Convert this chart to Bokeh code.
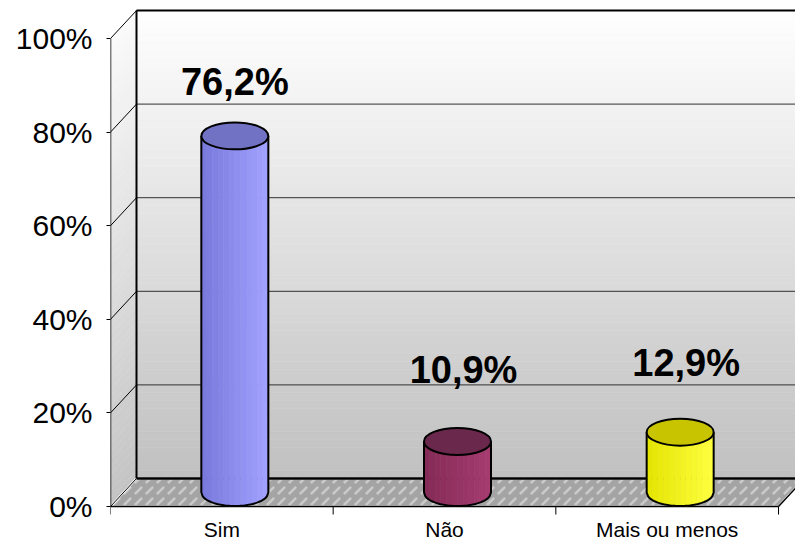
import numpy as np
from bokeh.plotting import figure
from bokeh.models import Range1d, FixedTicker, PrintfTickFormatter, ColumnDataSource
from bokeh.core.properties import value
from bokeh.embed import file_html
from bokeh.resources import INLINE

# ---- data ----
categories = ["Sim", "Não", "Mais ou menos"]
values = [76.2, 10.9, 12.9]
value_labels = ["76,2%", "10,9%", "12,9%"]
y_ticks = [0, 20, 40, 60, 80, 100]

# ---- styles ----
body_left = ["#7878dc", "#842a57", "#e4e400"]
body_right = ["#a2a2ff", "#a63c70", "#ffff40"]
top_colors = ["#7272c4", "#6a284c", "#c8c400"]
label_dx = [0, 6, 6]
label_dy = [-54, -71, -69]
FONT = "Liberation Sans"

W, H = 795, 542
LEFT = 110
BOTTOM_PX = 36
PXX = 668 / 3
PXY = 4.68
n = len(categories)
x_end = (W - LEFT) / PXX
y_start = -BOTTOM_PX / PXY
y_end = y_start + H / PXY
DX = 26 / PXX
DY = 28 / PXY
RX = 33.5 / PXX
RY = 13.5 / PXY


def hexmix(c1, c2, f):
    a = [int(c1[k:k + 2], 16) for k in (1, 3, 5)]
    b = [int(c2[k:k + 2], 16) for k in (1, 3, 5)]
    return "#%02x%02x%02x" % tuple(int(round(a[k] + (b[k] - a[k]) * f)) for k in range(3))


p = figure(width=W, height=H, x_range=Range1d(0, x_end), y_range=Range1d(y_start, y_end),
           output_backend="svg", toolbar_location=None, x_axis_location=None,
           min_border_left=LEFT, min_border_right=0, min_border_top=0, min_border_bottom=0)
p.outline_line_color = None
p.xgrid.visible = False
p.ygrid.visible = False
p.background_fill_color = "white"
p.border_fill_color = "white"

ax = p.yaxis[0]
ax.ticker = FixedTicker(ticks=y_ticks)
ax.formatter = PrintfTickFormatter(format="%d%%")
ax.axis_line_color = None
ax.major_tick_out = 4
ax.major_tick_in = 0
ax.major_tick_line_color = "black"
ax.minor_tick_line_color = None
ax.major_label_text_font = FONT
ax.major_label_text_font_size = "30px"
ax.major_label_text_color = "black"
ax.major_label_standoff = 14

# ---- back wall and side wall gradients ----
nb = 60
edges = np.linspace(0, 100, nb + 1)
cols = [hexmix("#c0c0c0", "#ffffff", (edges[k] + edges[k + 1]) / 200) for k in range(nb)]
p.quad(left=DX, right=n + DX, bottom=edges[:-1] + DY, top=edges[1:] + DY,
       fill_color=cols, line_color=cols, line_width=0.5)
side_cols = [hexmix("#c4c4c4", "#fafafa", (edges[k] + edges[k + 1]) / 200) for k in range(nb)]
p.patches(xs=[[0, DX, DX, 0] for k in range(nb)],
          ys=[[edges[k], edges[k] + DY, edges[k + 1] + DY, edges[k + 1]] for k in range(nb)],
          fill_color=side_cols, line_color=side_cols, line_width=0.5)

# ---- floor ----
p.patch(x=[0, n, n + DX, DX], y=[0, 0, DY, DY], fill_color="#a4a4a4",
        hatch_pattern="right_diagonal_dash", hatch_color="#e2e2e2", hatch_alpha=0.6,
        hatch_scale=11, hatch_weight=2.5, line_color="white", line_width=2)

# ---- gridlines ----
inner = [t for t in y_ticks if 0 < t < 100]
p.segment(x0=DX, y0=[t + DY for t in inner], x1=n + DX, y1=[t + DY for t in inner],
          line_color="#303030", line_width=1)
p.segment(x0=0, y0=y_ticks, x1=DX, y1=[t + DY for t in y_ticks], line_color="black", line_width=1)
# box edges
p.segment(x0=[DX, DX, DX, 0, 0, n], y0=[100 + DY, DY, DY, 0, 0, 0],
          x1=[n + DX, DX, n + DX, 0, n, n + DX], y1=[100 + DY, 100 + DY, DY, 100, 0, DY],
          line_color="black", line_width=[2, 2, 2.5, 1.5, 1.5, 1.5])
# bottom category ticks
p.segment(x0=list(range(n + 1)), y0=0, x1=list(range(n + 1)), y1=-8 / PXY,
          line_color="black", line_width=1)

# ---- cylinders ----
ns = 12
for i, v in enumerate(values):
    xc = i + 0.5 + DX / 2
    yb = DY / 2
    yt = DY / 2 + v
    xe = np.linspace(xc - RX, xc + RX, ns + 1)
    sx, sy, sc = [], [], []
    for j in range(ns):
        xa, xb = xe[j], xe[j + 1]
        xx = np.linspace(xb, xa, 6)
        yy = yb - RY * np.sqrt(np.clip(1 - ((xx - xc) / RX) ** 2, 0, 1))
        sx.append([xa, xb] + list(xx))
        sy.append([yt, yt] + list(yy))
        sc.append(hexmix(body_left[i], body_right[i], (j + 0.5) / ns))
    p.patches(xs=sx, ys=sy, fill_color=sc, line_color=sc, line_width=0.6)
    xx = np.linspace(xc - RX, xc + RX, 48)
    yy = yb - RY * np.sqrt(np.clip(1 - ((xx - xc) / RX) ** 2, 0, 1))
    p.line(x=[xc - RX] + list(xx) + [xc + RX], y=[yt] + list(yy) + [yt],
           line_color="black", line_width=2)
    p.ellipse(x=xc, y=yt, width=2 * RX, height=2 * RY, fill_color=top_colors[i],
              line_color="black", line_width=2)

# ---- value labels ----
src = ColumnDataSource(dict(
    x=[i + 0.5 + DX / 2 for i in range(n)],
    y=[DY / 2 + v for v in values],
    t=value_labels, dx=label_dx, dy=label_dy))
p.text(x="x", y="y", text="t", x_offset="dx", y_offset="dy", source=src,
       text_align="center", text_baseline="alphabetic", text_font=value(FONT),
       text_font_style="bold", text_font_size="38px", text_color="black")

# ---- category labels ----
p.text(x=[i + 0.5 for i in range(n)], y=[0] * n, text=categories, y_offset=23,
       text_align="center", text_baseline="alphabetic", text_font=value(FONT),
       text_font_size="21px", text_color="black")

open("out.html", "w").write(file_html(p, INLINE))
